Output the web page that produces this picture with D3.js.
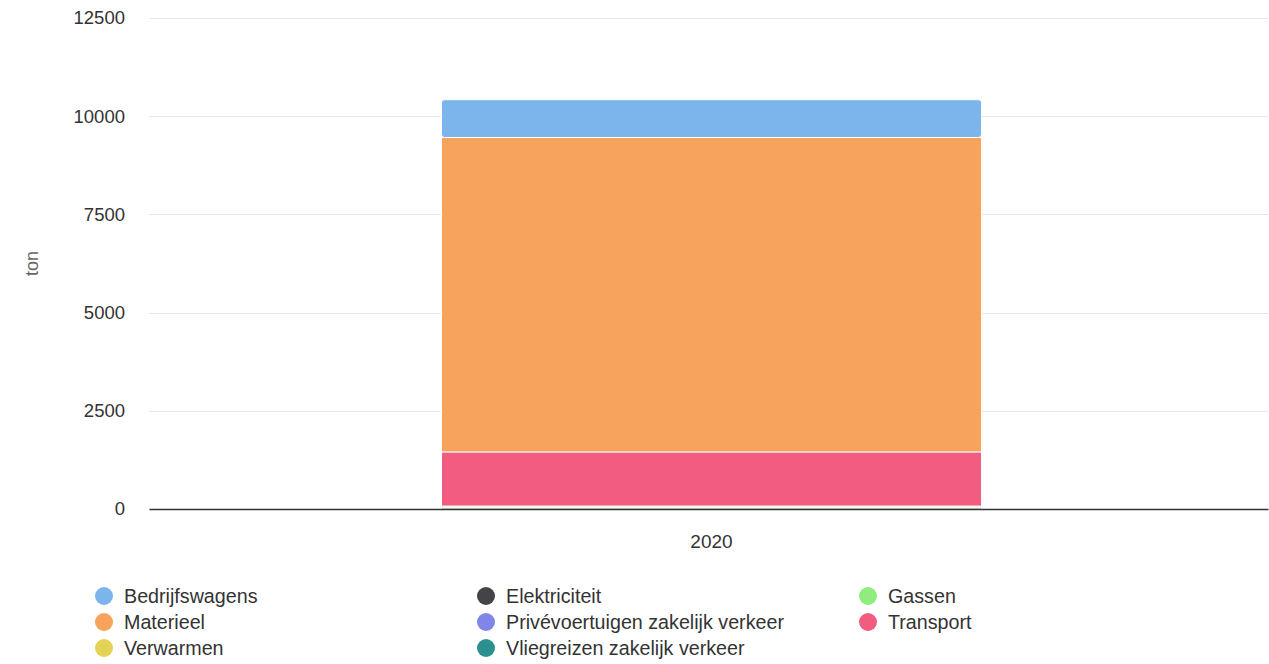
<!DOCTYPE html>
<html>
<head>
<meta charset="utf-8">
<script src="https://cdn.jsdelivr.net/npm/d3@7"></script>
<style>
  body { margin: 0; background: #fff; font-family: "Liberation Sans", Arial, sans-serif; }
</style>
</head>
<body>
<div id="chart"></div>
<script>
var width = 1269;
var height = 664;

var margin = { top: 18, right: 1, bottom: 155, left: 149 };

var chartHeight = height - margin.top - margin.bottom;
var chartWidth = width - margin.left - margin.right;

// data (ton)
var categories = ["2020"];
var seriesNames = ["Bedrijfswagens", "Elektriciteit", "Gassen", "Materieel",
  "Privévoertuigen zakelijk verkeer", "Transport", "Verwarmen", "Vliegreizen zakelijk verkeer"];
var seriesColors = ["#7cb5ec", "#434348", "#90ed7d", "#f7a35c", "#8085e9", "#f15c80", "#e4d354", "#2b908f"];
var seriesValues = [962, 0, 0, 8005, 0, 1378, 40, 35];
var yTicks = [0, 2500, 5000, 7500, 10000, 12500];

var svg = d3.select("#chart")
  .append("svg")
  .attr("width", width)
  .attr("height", height);

var chartGroup = svg.append("g")
  .attr("transform", `translate(${margin.left}, ${margin.top})`);

var x = d3.scaleBand()
  .domain(categories)
  .range([0, chartWidth])
  .paddingInner(0)
  .paddingOuter(0);

var y = d3.scaleLinear()
  .domain([0, 12500])
  .range([chartHeight, 0]);

// gridlines
chartGroup.append("g")
  .selectAll("line")
  .data(yTicks)
  .enter()
  .append("line")
  .attr("x1", 0)
  .attr("x2", chartWidth)
  .attr("y1", d => Math.round(y(d)) + 0.5)
  .attr("y2", d => Math.round(y(d)) + 0.5)
  .attr("stroke", "#e6e6e6")
  .attr("stroke-width", 1);

// y axis labels
var leftAxis = d3.axisLeft(y).tickValues(yTicks).tickSize(0).tickPadding(24).tickFormat(d3.format("d"));
var yAxis = chartGroup.append("g").call(leftAxis);
yAxis.select(".domain").remove();
yAxis.selectAll("text")
  .attr("fill", "#333")
  .style("font-size", "18.5px")
  .style("font-family", "Liberation Sans, Arial, sans-serif");

// stacked columns: first series on top, last at the bottom
var stackRows = categories.map(function (c) {
  var row = { category: c };
  seriesNames.forEach(function (s, i) { row[s] = seriesValues[i]; });
  return row;
});
var stack = d3.stack().keys(seriesNames.slice().reverse());
var layers = stack(stackRows);

var barWidth = 540;
var barOffset = (x.bandwidth() - barWidth) / 2 + 3;

layers.forEach(function (layer) {
  var name = layer.key;
  var idx = seriesNames.indexOf(name);
  if (seriesValues[idx] <= 0) return;
  chartGroup.append("g")
    .selectAll("rect")
    .data(layer)
    .enter()
    .append("rect")
    .attr("x", d => x(d.data.category) + barOffset)
    .attr("y", d => y(d[1]))
    .attr("width", barWidth)
    .attr("height", d => y(d[0]) - y(d[1]))
    .attr("rx", idx === 0 ? 3 : 0)
    .attr("fill", seriesColors[idx])
    .attr("stroke", "#fff")
    .attr("stroke-width", 1);
});

// x axis
var bottomAxis = d3.axisBottom(x).tickSize(0).tickPadding(26);
var xAxis = chartGroup.append("g")
  .attr("transform", `translate(0,${chartHeight})`)
  .call(bottomAxis);
xAxis.select(".domain")
  .attr("stroke", "#333")
  .attr("stroke-width", 1.5);
xAxis.selectAll("text")
  .attr("fill", "#333")
  .attr("dx", 3)
  .style("font-size", "19px")
  .style("font-family", "Liberation Sans, Arial, sans-serif");

// y axis title
svg.append("text")
  .attr("transform", `translate(38, ${margin.top + chartHeight / 2}) rotate(-90)`)
  .attr("text-anchor", "middle")
  .attr("fill", "#666")
  .style("font-size", "18px")
  .text("ton");

// legend
var legendCols = [104, 486, 868];
var legendRows = [596, 622, 648];
var legend = svg.append("g");
seriesNames.forEach(function (name, i) {
  var cx = legendCols[i % 3];
  var cy = legendRows[Math.floor(i / 3)];
  legend.append("circle")
    .attr("cx", cx)
    .attr("cy", cy)
    .attr("r", 9)
    .attr("fill", seriesColors[i]);
  legend.append("text")
    .attr("x", cx + 20)
    .attr("y", cy + 7)
    .attr("fill", "#333")
    .style("font-size", "19.7px")
    .text(name);
});
</script>
</body>
</html>
